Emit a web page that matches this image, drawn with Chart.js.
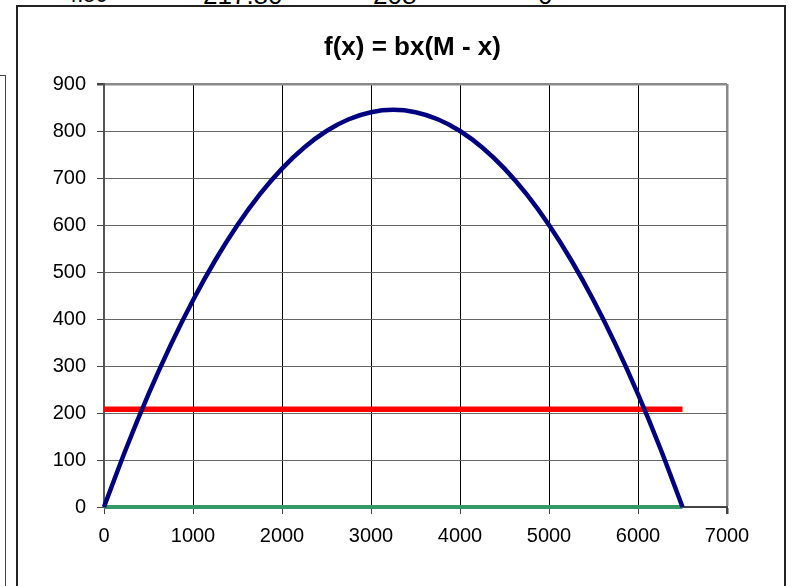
<!DOCTYPE html>
<html>
<head>
<meta charset="utf-8">
<script src="https://cdn.jsdelivr.net/npm/chart.js@4"></script>
<style>
  html, body { margin: 0; padding: 0; background: #fff; width: 795px; height: 586px; overflow: hidden; position: relative; font-family: "Liberation Sans", Arial, sans-serif; }
  .cell { position: absolute; color: #000; line-height: 26px; white-space: nowrap; }
  #leftbox { position: absolute; left: -10px; top: 75px; width: 14px; height: 600px; border: 1.5px solid #444; }
  #chartbox { position: absolute; left: 16px; top: 5px; width: 766px; height: 640px; border: 2px solid #222; }
  #c { position: absolute; left: 0; top: 0; }
</style>
</head>
<body>
<div class="cell" style="left:65px; top:-18px; font-size:22px;">4.50</div>
<div class="cell" style="left:203px; top:-18px; font-size:26px;">217.80</div>
<div class="cell" style="left:373px; top:-18px; font-size:26px;">208</div>
<div class="cell" style="left:538px; top:-18px; font-size:26px;">0</div>
<div id="leftbox"></div>
<div id="chartbox"></div>
<canvas id="c" width="795" height="586"></canvas>
<script>
// ---- data ----
const chartTitle = "f(x) = bx(M - x)";
const xValues     = [0, 250, 500, 750, 1000, 1250, 1500, 1750, 2000, 2250, 2500, 2750, 3000, 3250,
                     3500, 3750, 4000, 4250, 4500, 4750, 5000, 5250, 5500, 5750, 6000, 6250, 6500];
const curveValues = [0, 125, 240, 345, 440, 525, 600, 665, 720, 765, 800, 825, 840, 845,
                     840, 825, 800, 765, 720, 665, 600, 525, 440, 345, 240, 125, 0];
const harvestX    = [0, 6500];
const harvestY    = [208, 208];
const zeroX       = [0, 6500];
const zeroY       = [0, 0];
const xTickMin = 0, xTickMax = 7000, xTickStep = 1000;
const yTickMin = 0, yTickMax = 900, yTickStep = 100;

const toPts = (xs, ys) => xs.map((x, i) => ({ x: x, y: ys[i] }));
const FONT = "'Liberation Sans', Arial, sans-serif";

// draws the chart title centred over the plot area (as in the reference)
const plotTitle = {
  id: 'plotTitle',
  afterDraw(chart) {
    const { ctx, chartArea } = chart;
    ctx.save();
    ctx.font = "bold 26px " + FONT;
    ctx.fillStyle = '#000';
    ctx.textAlign = 'center';
    ctx.textBaseline = 'middle';
    ctx.fillText(chartTitle, (chartArea.left + chartArea.right) / 2 - 3, 48);
    ctx.restore();
  }
};

new Chart(document.getElementById('c'), {
  type: 'line',
  data: {
    datasets: [
      { data: toPts(zeroX, zeroY), borderColor: '#339966', borderWidth: 4, pointRadius: 0, clip: false, order: 3 },
      { data: toPts(harvestX, harvestY), borderColor: '#ff0000', borderWidth: 5.5, pointRadius: 0, clip: false, order: 2 },
      { data: toPts(xValues, curveValues), borderColor: '#000080', borderWidth: 4.5, pointRadius: 0, tension: 0.3, clip: false, order: 1 }
    ]
  },
  plugins: [plotTitle],
  options: {
    responsive: false,
    animation: false,
    events: [],
    layout: { padding: { top: 84, left: 0, right: 68, bottom: 0 } },
    plugins: {
      legend: { display: false },
      tooltip: { enabled: false },
      title: { display: false }
    },
    scales: {
      x: {
        type: 'linear',
        min: xTickMin, max: xTickMax,
        afterFit: (s) => { s.height = 79; },
        ticks: { stepSize: xTickStep, color: '#000', padding: 10, maxRotation: 0, font: { family: FONT, size: 20 },
                 callback: (v) => String(v) },
        grid: {
          color: (ctx) => ctx.tick && ctx.tick.value === xTickMax ? '#8a8a8a' : (ctx.tick && ctx.tick.value === xTickMin ? 'rgba(0,0,0,0)' : '#000'),
          lineWidth: (ctx) => ctx.tick && ctx.tick.value === xTickMax ? 2.5 : 1,
          tickColor: '#444',
          tickLength: 7,
          drawTicks: true
        },
        border: { display: true, color: '#444', width: 2 }
      },
      y: {
        type: 'linear',
        min: yTickMin, max: yTickMax,
        afterFit: (s) => { s.width = 104; },
        ticks: { stepSize: yTickStep, color: '#000', padding: 11, font: { family: FONT, size: 20 },
                 callback: (v) => String(v) },
        grid: {
          color: (ctx) => ctx.tick && ctx.tick.value === yTickMax ? '#8a8a8a' : (ctx.tick && ctx.tick.value === yTickMin ? 'rgba(0,0,0,0)' : '#666'),
          lineWidth: (ctx) => ctx.tick && ctx.tick.value === yTickMax ? 2.5 : 1,
          tickColor: '#444',
          tickLength: 7,
          drawTicks: true
        },
        border: { display: true, color: '#555', width: 2 }
      }
    }
  }
});
</script>
</body>
</html>
